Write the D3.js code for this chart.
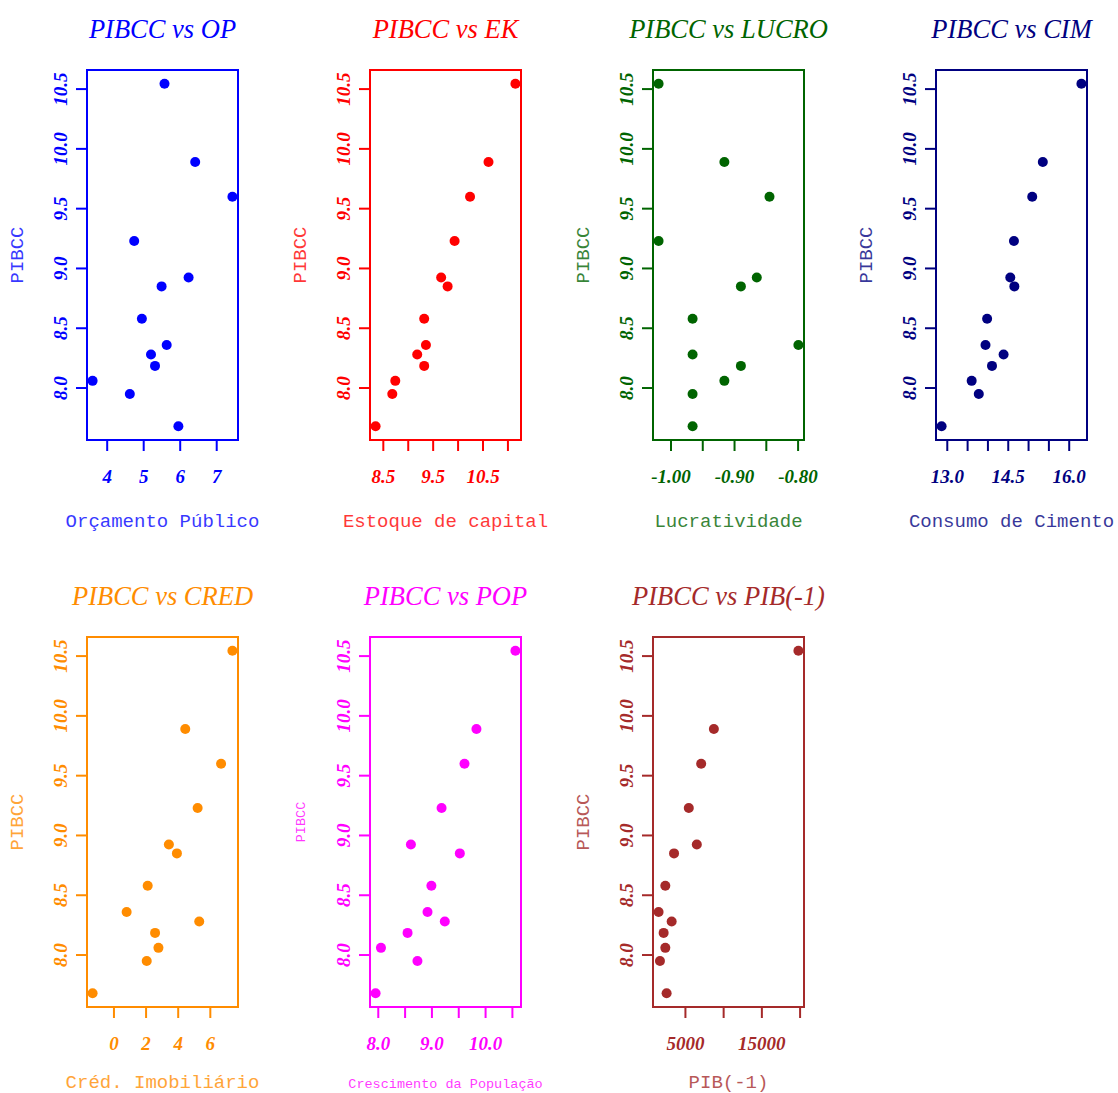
<!DOCTYPE html>
<html>
<head>
<meta charset="utf-8">
<script src="https://cdn.jsdelivr.net/npm/d3@7"></script>
<style>
  body { margin: 0; background: #fff; }
  .title { font-family: "Liberation Serif", serif; font-style: italic; font-size: 26.5px; }
  .tick-label { font-family: "Liberation Serif", serif; font-style: italic; font-weight: bold; font-size: 19px; }
  .axis-title { font-family: "Liberation Mono", monospace; font-size: 19px; opacity: 0.78; }
</style>
</head>
<body>
<svg id="chart" width="1118" height="1093"></svg>
<script>

// PIBCC, ordered from lowest to highest
const pibcc = [7.68, 7.95, 8.06, 8.185, 8.28, 8.36, 8.58, 8.85, 8.925, 9.23, 9.60, 9.89, 10.545];

// explanatory variables, same order as pibcc
const op    = [5.95, 4.62, 3.60, 5.31, 5.20, 5.63, 4.95, 5.49, 6.23, 4.74, 7.43, 6.41, 5.57];
const ek    = [8.345, 8.68, 8.74, 9.32, 9.18, 9.355, 9.32, 9.79, 9.66, 9.93, 10.24, 10.61, 11.15];
const lucro = [-0.966, -0.966, -0.916, -0.890, -0.966, -0.7995, -0.966, -0.890, -0.865, -1.0195, -0.845, -0.916, -1.0195];
const cim   = [12.86, 13.775, 13.60, 14.10, 14.385, 13.94, 13.98, 14.65, 14.55, 14.64, 15.09, 15.35, 16.30];
const cred  = [-1.33, 2.04, 2.77, 2.56, 5.31, 0.79, 2.10, 3.92, 3.42, 5.21, 6.67, 4.44, 7.375];
const pop   = [7.95, 8.73, 8.05, 8.546, 9.24, 8.918, 8.99, 9.52, 8.608, 9.18, 9.607, 9.83, 10.556];
const pib1  = [2540, 1670, 2370, 2150, 3200, 1490, 2370, 3510, 6490, 5440, 7060, 8720, 19780];

// y axis ticks (shared)
const yTicks = [8.0, 8.5, 9.0, 9.5, 10.0, 10.5];
const yTickLabels = ["8.0", "8.5", "9.0", "9.5", "10.0", "10.5"];

// x axis ticks per panel ("" = tick without label, like R drops overlapping ones)
const opTicks = [4, 5, 6, 7];
const opLabels = ["4", "5", "6", "7"];
const ekTicks = [8.5, 9.0, 9.5, 10.0, 10.5, 11.0];
const ekLabels = ["8.5", "", "9.5", "", "10.5", ""];
const lucroTicks = [-1.00, -0.95, -0.90, -0.85, -0.80];
const lucroLabels = ["-1.00", "", "-0.90", "", "-0.80"];
const cimTicks = [13.0, 13.5, 14.0, 14.5, 15.0, 15.5, 16.0];
const cimLabels = ["13.0", "", "", "14.5", "", "", "16.0"];
const credTicks = [0, 2, 4, 6];
const credLabels = ["0", "2", "4", "6"];
const popTicks = [8.0, 8.5, 9.0, 9.5, 10.0, 10.5];
const popLabels = ["8.0", "", "9.0", "", "10.0", ""];
const pibTicks = [5000, 10000, 15000, 20000];
const pibLabels = ["5000", "", "15000", ""];

const titles  = ["PIBCC vs OP", "PIBCC vs EK", "PIBCC vs LUCRO", "PIBCC vs CIM",
                 "PIBCC vs CRED", "PIBCC vs POP", "PIBCC vs PIB(-1)"];
const xTitles = ["Orçamento Público", "Estoque de capital", "Lucratividade", "Consumo de Cimento",
                 "Créd. Imobiliário", "Crescimento da População", "PIB(-1)"];
const colors  = ["#0000ff", "#ff0000", "#006400", "#000080", "#ff8c00", "#ff00ff", "#a52a2a"];

const panels = [
    {x: op,    ticks: opTicks,    labels: opLabels},
    {x: ek,    ticks: ekTicks,    labels: ekLabels},
    {x: lucro, ticks: lucroTicks, labels: lucroLabels},
    {x: cim,   ticks: cimTicks,   labels: cimLabels},
    {x: cred,  ticks: credTicks,  labels: credLabels},
    {x: pop,   ticks: popTicks,   labels: popLabels, small: true},
    {x: pib1,  ticks: pibTicks,   labels: pibLabels}
];

const svg = d3.select("#chart");

const plotW = 151, plotH = 370;
const colStep = 283, rowTops = [70, 637];
const titleGap = [87, 81];   // x-axis title baseline below the frame, per row
const tickLen = 11;

// R style axis range: data range plus 4% on each side
function padded(values) {
    var ext = d3.extent(values);
    var pad = (ext[1] - ext[0]) * 0.04;
    return [ext[0] - pad, ext[1] + pad];
}

panels.forEach(function(p, i) {

    var col = i % 4, row = Math.floor(i / 4);
    var left = 87 + col * colStep;
    var top = rowTops[row];
    var color = colors[i];

    var xScale = d3.scaleLinear().domain(padded(p.x)).range([left, left + plotW]);
    var yScale = d3.scaleLinear().domain(padded(pibcc)).range([top + plotH, top]);

    var g = svg.append("g").attr("class", "panel");

    // title
    g.append("text")
     .attr("class", "title")
     .attr("x", left + plotW / 2)
     .attr("y", top - 32)
     .attr("text-anchor", "middle")
     .attr("fill", color)
     .text(titles[i]);

    // frame
    g.append("rect")
     .attr("x", left)
     .attr("y", top)
     .attr("width", plotW)
     .attr("height", plotH)
     .attr("fill", "none")
     .attr("stroke", color)
     .attr("stroke-width", 2);

    // y ticks + rotated labels
    g.selectAll("line.ytick")
     .data(yTicks)
     .enter()
     .append("line")
     .attr("class", "ytick")
     .attr("x1", left)
     .attr("x2", left - tickLen)
     .attr("y1", d => yScale(d))
     .attr("y2", d => yScale(d))
     .attr("stroke", color)
     .attr("stroke-width", 2);

    g.selectAll("text.ylab")
     .data(yTicks)
     .enter()
     .append("text")
     .attr("class", "ylab tick-label")
     .attr("text-anchor", "middle")
     .attr("dominant-baseline", "central")
     .attr("fill", color)
     .attr("transform", d => "translate(" + (left - 27) + "," + yScale(d) + ") rotate(-90)")
     .text((d, k) => yTickLabels[k]);

    // x ticks + labels
    g.selectAll("line.xtick")
     .data(p.ticks)
     .enter()
     .append("line")
     .attr("class", "xtick")
     .attr("x1", d => xScale(d))
     .attr("x2", d => xScale(d))
     .attr("y1", top + plotH)
     .attr("y2", top + plotH + tickLen)
     .attr("stroke", color)
     .attr("stroke-width", 2);

    g.selectAll("text.xlab")
     .data(p.ticks)
     .enter()
     .append("text")
     .attr("class", "xlab tick-label")
     .attr("text-anchor", "middle")
     .attr("x", d => xScale(d))
     .attr("y", top + plotH + 43)
     .attr("fill", color)
     .text((d, k) => p.labels[k]);

    // axis titles
    g.append("text")
     .attr("class", "axis-title")
     .attr("x", left + plotW / 2)
     .attr("y", top + plotH + titleGap[row])
     .attr("text-anchor", "middle")
     .attr("fill", color)
     .style("font-size", p.small ? "13.5px" : null)
     .text(xTitles[i]);

    g.append("text")
     .attr("class", "axis-title")
     .attr("text-anchor", "middle")
     .attr("dominant-baseline", "central")
     .attr("fill", color)
     .style("font-size", p.small ? "13.5px" : null)
     .attr("transform", "translate(" + (left - 69) + "," + (top + plotH / 2) + ") rotate(-90)")
     .text("PIBCC");

    // points
    g.selectAll("circle")
     .data(p.x)
     .enter()
     .append("circle")
     .attr("cx", d => xScale(d))
     .attr("cy", (d, k) => yScale(pibcc[k]))
     .attr("r", 5)
     .attr("fill", color);
});

</script>
</body>
</html>
